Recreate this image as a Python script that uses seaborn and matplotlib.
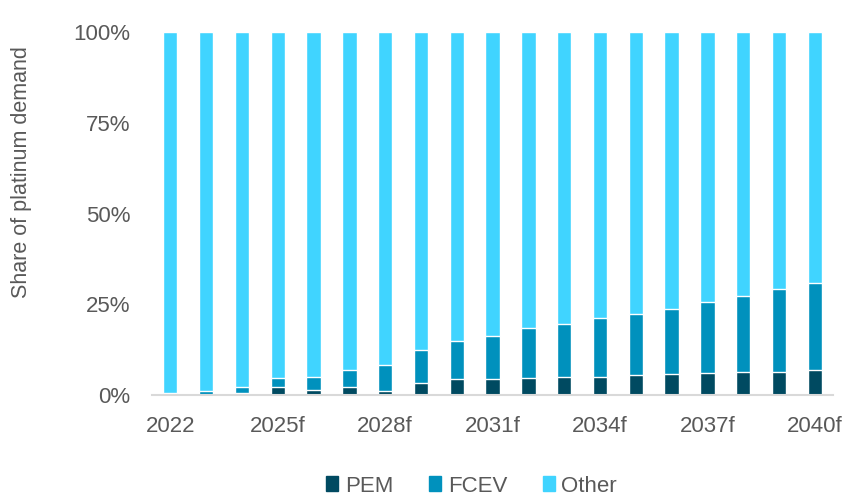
import numpy as np
import pandas as pd
import seaborn as sns
import matplotlib.pyplot as plt
from matplotlib.patches import Patch

years = ['2022', '2023f', '2024f', '2025f', '2026f', '2027f', '2028f', '2029f', '2030f', '2031f',
         '2032f', '2033f', '2034f', '2035f', '2036f', '2037f', '2038f', '2039f', '2040f']
pem = [0.0, 0.0, 0.5, 2.2, 1.5, 2.2, 1.1, 3.2, 4.3, 4.3, 4.6, 5.0, 5.0, 5.4, 5.8, 6.1, 6.4, 6.4, 6.8]
fcev = [0.5, 1.1, 1.7, 2.5, 3.5, 4.6, 7.1, 9.2, 10.6, 12.0, 13.9, 14.6, 16.3, 17.0, 18.0, 19.5, 20.9, 22.7, 24.0]
other = [100 - p - f for p, f in zip(pem, fcev)]

tick_labels = ['2022', '2025f', '2028f', '2031f', '2034f', '2037f', '2040f']

col_pem = '#004A61'
col_fcev = '#0091BD'
col_other = '#40D4FF'
txt = '#595959'

df = pd.DataFrame({'year': years, 'pem': pem, 'fcev': fcev, 'other': other})
df['pem_fcev'] = df['pem'] + df['fcev']
df['total'] = df['pem_fcev'] + df['other']

sns.set_style('white')
plt.rcParams['font.family'] = ['Liberation Sans', 'DejaVu Sans']

fig = plt.figure(figsize=(8.42, 4.95), dpi=100)
ax = fig.add_axes([0.181, 0.202, 0.808, 0.733])

# stacked look: draw totals first, then smaller cumulative layers on top
sns.barplot(data=df, x='year', y='total', color=col_other, width=0.4, order=years, ax=ax, saturation=1)
sns.barplot(data=df, x='year', y='pem_fcev', color=col_fcev, width=0.4, order=years, ax=ax, saturation=1)
sns.barplot(data=df, x='year', y='pem', color=col_pem, width=0.4, order=years, ax=ax, saturation=1)

ax.set_xlim(-0.5, len(years) - 0.5)
ax.set_ylim(0, 100)
ax.set_yticks([0, 25, 50, 75, 100])
ax.set_yticklabels(['0%', '25%', '50%', '75%', '100%'], fontsize=16, color=txt)
ax.set_xticks([years.index(t) for t in tick_labels])
ax.set_xticklabels(tick_labels, fontsize=16, color=txt)
ax.tick_params(axis='y', length=0, pad=16)
ax.tick_params(axis='x', length=0, pad=15)
ax.set_xlabel('')
ax.set_ylabel('Share of platinum demand', fontsize=15.5, color=txt)
ax.yaxis.set_label_coords(-0.177, 0.614)

for s in ['top', 'right', 'left']:
    ax.spines[s].set_visible(False)
ax.spines['bottom'].set_color('#D9D9D9')
ax.spines['bottom'].set_linewidth(1.5)

handles = [Patch(color=col_pem, label='PEM'),
           Patch(color=col_fcev, label='FCEV'),
           Patch(color=col_other, label='Other')]
fig.legend(handles=handles, loc='center', bbox_to_anchor=(0.56, 0.018), ncol=3,
           frameon=False, fontsize=16, handlelength=0.55, handleheight=0.65, handletextpad=0.3,
           columnspacing=1.6, labelcolor=txt)

fig.savefig('out.png', dpi=100)
